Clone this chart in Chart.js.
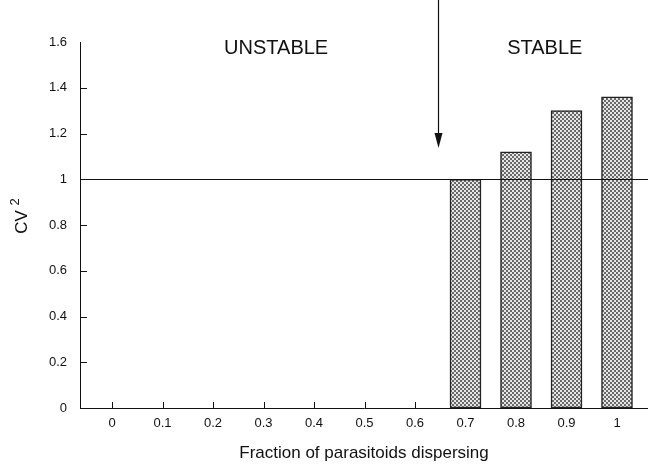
<!DOCTYPE html>
<html>
<head>
<meta charset="utf-8">
<script src="https://cdn.jsdelivr.net/npm/chart.js@4.4.1/dist/chart.umd.min.js"></script>
<style>
  html, body { margin: 0; padding: 0; background: #fff; }
  #wrap { width: 648px; height: 467px; }
</style>
</head>
<body>
<div id="wrap"><canvas id="cvChart"></canvas></div>
<script>
// data
var fractions = [0, 0.1, 0.2, 0.3, 0.4, 0.5, 0.6, 0.7, 0.8, 0.9, 1];
var cv2 = [null, null, null, null, null, null, null, 1.0, 1.12, 1.30, 1.36];
var yTicks = [0, 0.2, 0.4, 0.6, 0.8, 1, 1.2, 1.4, 1.6];
var threshold = 1;
var arrowAt = { x: 0.645, y: 1.137 };
var regions = [
  { text: "UNSTABLE", x: 0.325, y: 1.572 },
  { text: "STABLE", x: 0.857, y: 1.572 }
];

var FONT = "'Liberation Sans', Arial, Helvetica, sans-serif";

// stippled grey fill like the printed figure
function makePattern() {
  var c = document.createElement("canvas");
  c.width = 4; c.height = 4;
  var g = c.getContext("2d");
  g.fillStyle = "#e6e6e6";
  g.fillRect(0, 0, 4, 4);
  g.fillStyle = "#6a6a6a";
  g.fillRect(0, 0, 2, 2);
  g.fillRect(2, 2, 2, 2);
  return g.createPattern(c, "repeat");
}

var decorations = {
  id: "decorations",
  beforeDatasetsDraw: function (chart) {
    var ctx = chart.ctx, x = chart.scales.x, y = chart.scales.y;
    ctx.save();
    ctx.strokeStyle = "#111";
    ctx.lineWidth = 1;
    // inward ticks on the x axis
    fractions.forEach(function (f) {
      var px = Math.round(x.getPixelForValue(f)) + 0.5;
      ctx.beginPath();
      ctx.moveTo(px, y.bottom);
      ctx.lineTo(px, y.bottom - 6);
      ctx.stroke();
    });
    // inward ticks on the y axis
    yTicks.forEach(function (v) {
      if (v === 0 || v === 1.6) return;
      var py = Math.round(y.getPixelForValue(v)) + 0.5;
      ctx.beginPath();
      ctx.moveTo(x.left, py);
      ctx.lineTo(x.left + 7, py);
      ctx.stroke();
    });
    ctx.restore();
  },
  afterDatasetsDraw: function (chart) {
    var ctx = chart.ctx, x = chart.scales.x, y = chart.scales.y;
    ctx.save();
    // reference line at CV^2 = 1
    var py = Math.round(y.getPixelForValue(threshold)) + 0.5;
    ctx.strokeStyle = "#111";
    ctx.lineWidth = 1.2;
    ctx.beginPath();
    ctx.moveTo(x.left, py);
    ctx.lineTo(chart.width, py);
    ctx.stroke();

    // arrow marking the stability boundary
    var ax = Math.round(x.getPixelForValue(arrowAt.x)) + 0.5;
    var ay = y.getPixelForValue(arrowAt.y);
    ctx.lineWidth = 1.2;
    ctx.beginPath();
    ctx.moveTo(ax, 0);
    ctx.lineTo(ax, ay - 10);
    ctx.stroke();
    ctx.fillStyle = "#111";
    ctx.beginPath();
    ctx.moveTo(ax - 4, ay - 15);
    ctx.lineTo(ax + 4, ay - 15);
    ctx.lineTo(ax, ay);
    ctx.closePath();
    ctx.fill();

    // region labels
    ctx.font = "20px " + FONT;
    ctx.textAlign = "center";
    ctx.textBaseline = "middle";
    regions.forEach(function (r) {
      ctx.fillText(r.text, x.getPixelForValue(r.x), y.getPixelForValue(r.y));
    });

    // y axis title with raised 2
    ctx.translate(22, 216);
    ctx.rotate(-Math.PI / 2);
    ctx.textAlign = "left";
    ctx.font = "17px " + FONT;
    var w = ctx.measureText("CV ").width;
    ctx.font = "13px " + FONT;
    var w2 = ctx.measureText("2").width;
    var start = -(w + w2) / 2;
    ctx.font = "17px " + FONT;
    ctx.fillText("CV ", start, 0);
    ctx.font = "13px " + FONT;
    ctx.fillText("2", start + w, -7);
    ctx.restore();
  }
};

var ctx = document.getElementById("cvChart").getContext("2d");
var chart = new Chart(ctx, {
  type: "bar",
  data: {
    datasets: [{
      data: fractions.map(function (f, i) { return { x: f, y: cv2[i] }; }),
      backgroundColor: makePattern(),
      borderColor: "#222",
      borderWidth: 1.5,
      borderSkipped: false,
      barThickness: 31
    }]
  },
  options: {
    responsive: true,
    maintainAspectRatio: false,
    animation: false,
    layout: { padding: { top: 42, right: 0, left: 0, bottom: 0 } },
    plugins: { legend: { display: false }, tooltip: { enabled: false } },
    scales: {
      x: {
        type: "linear",
        min: -0.0634,
        max: 1.0614,
        offset: false,
        grid: { display: false, drawTicks: false },
        border: { display: true, color: "#111", width: 1 },
        afterBuildTicks: function (axis) {
          axis.ticks = fractions.map(function (v) { return { value: v }; });
        },
        afterFit: function (scale) { scale.height = 59; },
        ticks: {
          padding: 8,
          autoSkip: false,
          maxRotation: 0,
          color: "#111",
          font: { family: FONT, size: 13 },
          callback: function (v) { return String(v); }
        },
        title: {
          display: true,
          text: "Fraction of parasitoids dispersing",
          color: "#111",
          font: { family: FONT, size: 17 },
          padding: { top: 0, bottom: 3 }
        }
      },
      y: {
        min: 0,
        max: 1.6,
        grid: { display: false, drawTicks: false },
        border: { display: true, color: "#111", width: 1 },
        afterBuildTicks: function (axis) {
          axis.ticks = yTicks.map(function (v) { return { value: v }; });
        },
        afterFit: function (scale) { scale.width = 80; },
        ticks: {
          padding: 13,
          color: "#111",
          font: { family: FONT, size: 13 },
          callback: function (v) { return String(v); }
        }
      }
    }
  },
  plugins: [decorations]
});
</script>
</body>
</html>
